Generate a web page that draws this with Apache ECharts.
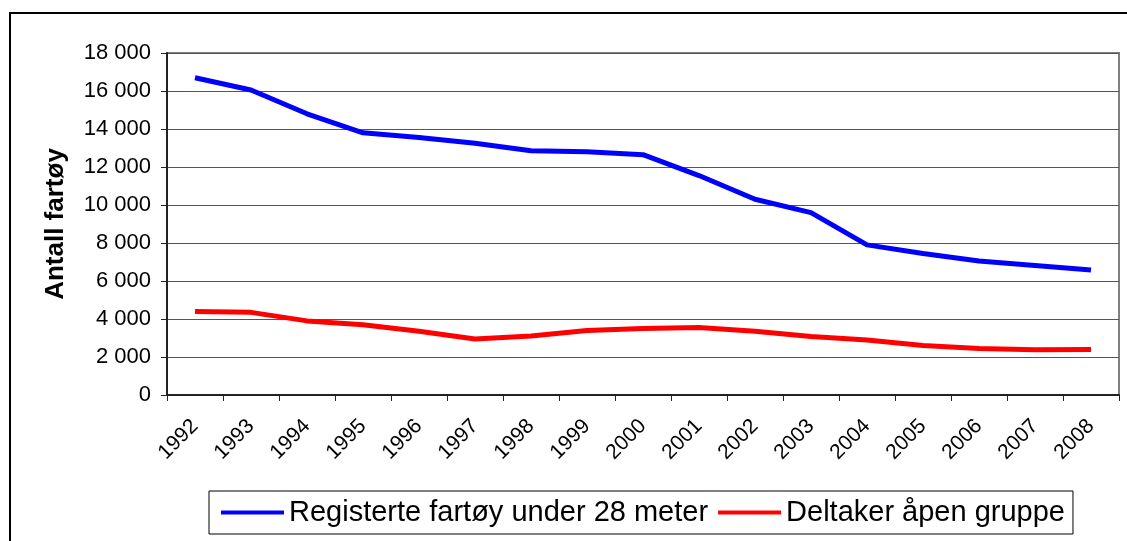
<!DOCTYPE html>
<html>
	<head>
		<meta charset="utf-8">
		<title>Antall fartøy</title>
		<script src="https://cdn.jsdelivr.net/npm/echarts@6/dist/echarts.min.js"></script>
		<style>
			html, body { margin: 0; padding: 0; background: #fff; }
			#main { width: 1127px; height: 541px; }
		</style>
	</head>
	<body>
		<div id="main"></div>
		<script type="text/javascript">
		// år og verdier, lest av figuren
		var years = ['1992','1993','1994','1995','1996','1997','1998','1999','2000',
			'2001','2002','2003','2004','2005','2006','2007','2008'];
		var registrerte = [16700, 16050, 14800, 13800, 13550, 13250, 12850, 12800, 12650,
			11550, 10300, 9600, 7900, 7450, 7050, 6820, 6580];
		var deltakere = [4400, 4350, 3900, 3700, 3350, 2950, 3100, 3400, 3500,
			3550, 3350, 3080, 2900, 2600, 2450, 2380, 2400];
		var yTicks = [0, 2000, 4000, 6000, 8000, 10000, 12000, 14000, 16000, 18000];

		var font = 'Liberation Sans, Arial, sans-serif';

		function fmt(v) {
			return String(v).replace(/\B(?=(\d{3})+(?!\d))/g, ' ');
		}

		var myChart = echarts.init(document.getElementById('main'));

		var option = {
			backgroundColor: '#fff',
			animation: false,
			textStyle: { fontFamily: font },
			graphic: [{
				type: 'rect',
				shape: { x: 10, y: 13, width: 1140, height: 600 },
				style: { fill: 'none', stroke: '#000', lineWidth: 2 },
				z: -1
			}],
			grid: {
				left: 167, right: 8, top: 53, bottom: 146,
				show: true, borderColor: '#808080', borderWidth: 2,
				backgroundColor: '#fff'
			},
			legend: {
				left: 209, top: 491,
				padding: [7, 8, 7, 12],
				itemGap: 10,
				itemWidth: 63, itemHeight: 4,
				icon: 'rect',
				borderColor: '#000', borderWidth: 1,
				textStyle: { fontSize: 29, color: '#000', fontFamily: font },
				data: ['Registerte fartøy under 28 meter', 'Deltaker åpen gruppe']
			},
			xAxis: {
				type: 'category',
				data: years,
				boundaryGap: true,
				axisLine: { lineStyle: { color: '#222', width: 2 } },
				axisTick: { show: true, interval: 0, length: 6, lineStyle: { color: '#222' } },
				axisLabel: { interval: 0, rotate: 45, fontSize: 21, color: '#000', margin: 28, fontFamily: font },
				splitLine: { show: false }
			},
			yAxis: {
				type: 'value',
				min: yTicks[0],
				max: yTicks[yTicks.length - 1],
				interval: 2000,
				name: 'Antall fartøy',
				nameLocation: 'middle',
				nameGap: 98,
				nameTextStyle: { fontSize: 26, fontWeight: 'bold', color: '#000', fontFamily: font },
				axisLine: { show: true, lineStyle: { color: '#222', width: 2 } },
				axisTick: { show: true, length: 6, lineStyle: { color: '#222' } },
				axisLabel: { fontSize: 22, color: '#000', margin: 16, formatter: fmt, fontFamily: font },
				splitLine: { show: true, lineStyle: { color: '#555', width: 1 } }
			},
			series: [{
				name: 'Registerte fartøy under 28 meter',
				type: 'line',
				data: registrerte,
				symbol: 'none',
				lineStyle: { color: '#0000ff', width: 5 },
				itemStyle: { color: '#0000ff' }
			}, {
				name: 'Deltaker åpen gruppe',
				type: 'line',
				data: deltakere,
				symbol: 'none',
				lineStyle: { color: '#ff0000', width: 5 },
				itemStyle: { color: '#ff0000' }
			}]
		};

		myChart.setOption(option);
		</script>
	</body>
</html>
